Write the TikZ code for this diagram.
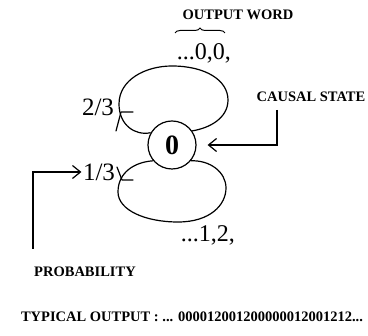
\documentclass[tikz,border=0pt]{standalone}
\usepackage{fontspec}
\setmainfont{Liberation Serif}
\usepackage{tikz}
\usetikzlibrary{arrows.meta, positioning, calc, decorations.pathreplacing}
\tikzset{
  capt/.style={font=\fontsize{14.5}{16}\selectfont\bfseries, inner sep=1pt},
  word/.style={font=\fontsize{24}{26}\selectfont, inner sep=1pt},
  prob/.style={font=\fontsize{25}{27}\selectfont, inner sep=1pt},
  statebox/.style={draw, circle, minimum size=48pt, inner sep=0pt,
                   font=\fontsize{28}{30}\selectfont\bfseries},
  arr/.style={-{Straight Barb[length=8pt,width=13pt]}},
  tick/.style={line cap=round},
}

\begin{document}
\begin{tikzpicture}[x=1pt, y=-1pt, line width=1.2pt]
  \useasboundingbox (0,0) rectangle (368,336);
  % state and its two self loops
  \node[statebox] (s0) at (172,145) {0};
  \draw (s0.150) .. controls (135,136) and (119,125) .. (119,104)
        .. controls (119,80) and (145,66) .. (172,66)
        .. controls (205,66) and (228,80) .. (228,100)
        .. controls (228,118) and (210,128) .. (s0.35);
  \draw (s0.220) .. controls (135,162) and (118,172) .. (118,192)
        .. controls (118,210) and (145,222) .. (178,222)
        .. controls (210,222) and (226,205) .. (226,188)
        .. controls (226,172) and (210,160) .. (s0.320);
  \coordinate (tip1) at (121,112);
  \coordinate (tip2) at (122,180);
  \draw[tick] (tip1) -- ++(12,0) (tip1) -- ++(-5,19);
  \draw[tick] (tip2) -- ++(11,0) (tip2) -- ++(-5,-13);
  % labels
  \node[prob] (p23) at (98,107) {2/3};
  \node[prob] (p13) at (99,172) {1/3};
  \node[word] (w0) at (204,53) {...0,0,};
  \node[word] (w1) at (208,235) {...1,2,};
  \node[capt] (lword) at (238,15) {OUTPUT WORD};
  \draw[decorate, decoration={brace, amplitude=5pt}, line width=1pt]
    (175,33) -- (225,33);
  \node[capt] (lstate) at (311,97) {CAUSAL STATE};
  \node[capt] (lprob) at (85,272) {PROBABILITY};
  \node[capt] (lout) at (192,317) {TYPICAL OUTPUT : ... 000012001200000012001212...};
  % pointers
  \coordinate (cstop) at (277,110);
  \coordinate (pbot) at (33,249);
  \draw[arr, shorten >=11pt] (cstop) |- (s0.east);
  \draw[arr] (pbot) |- (p13.west);
\end{tikzpicture}
\end{document}
